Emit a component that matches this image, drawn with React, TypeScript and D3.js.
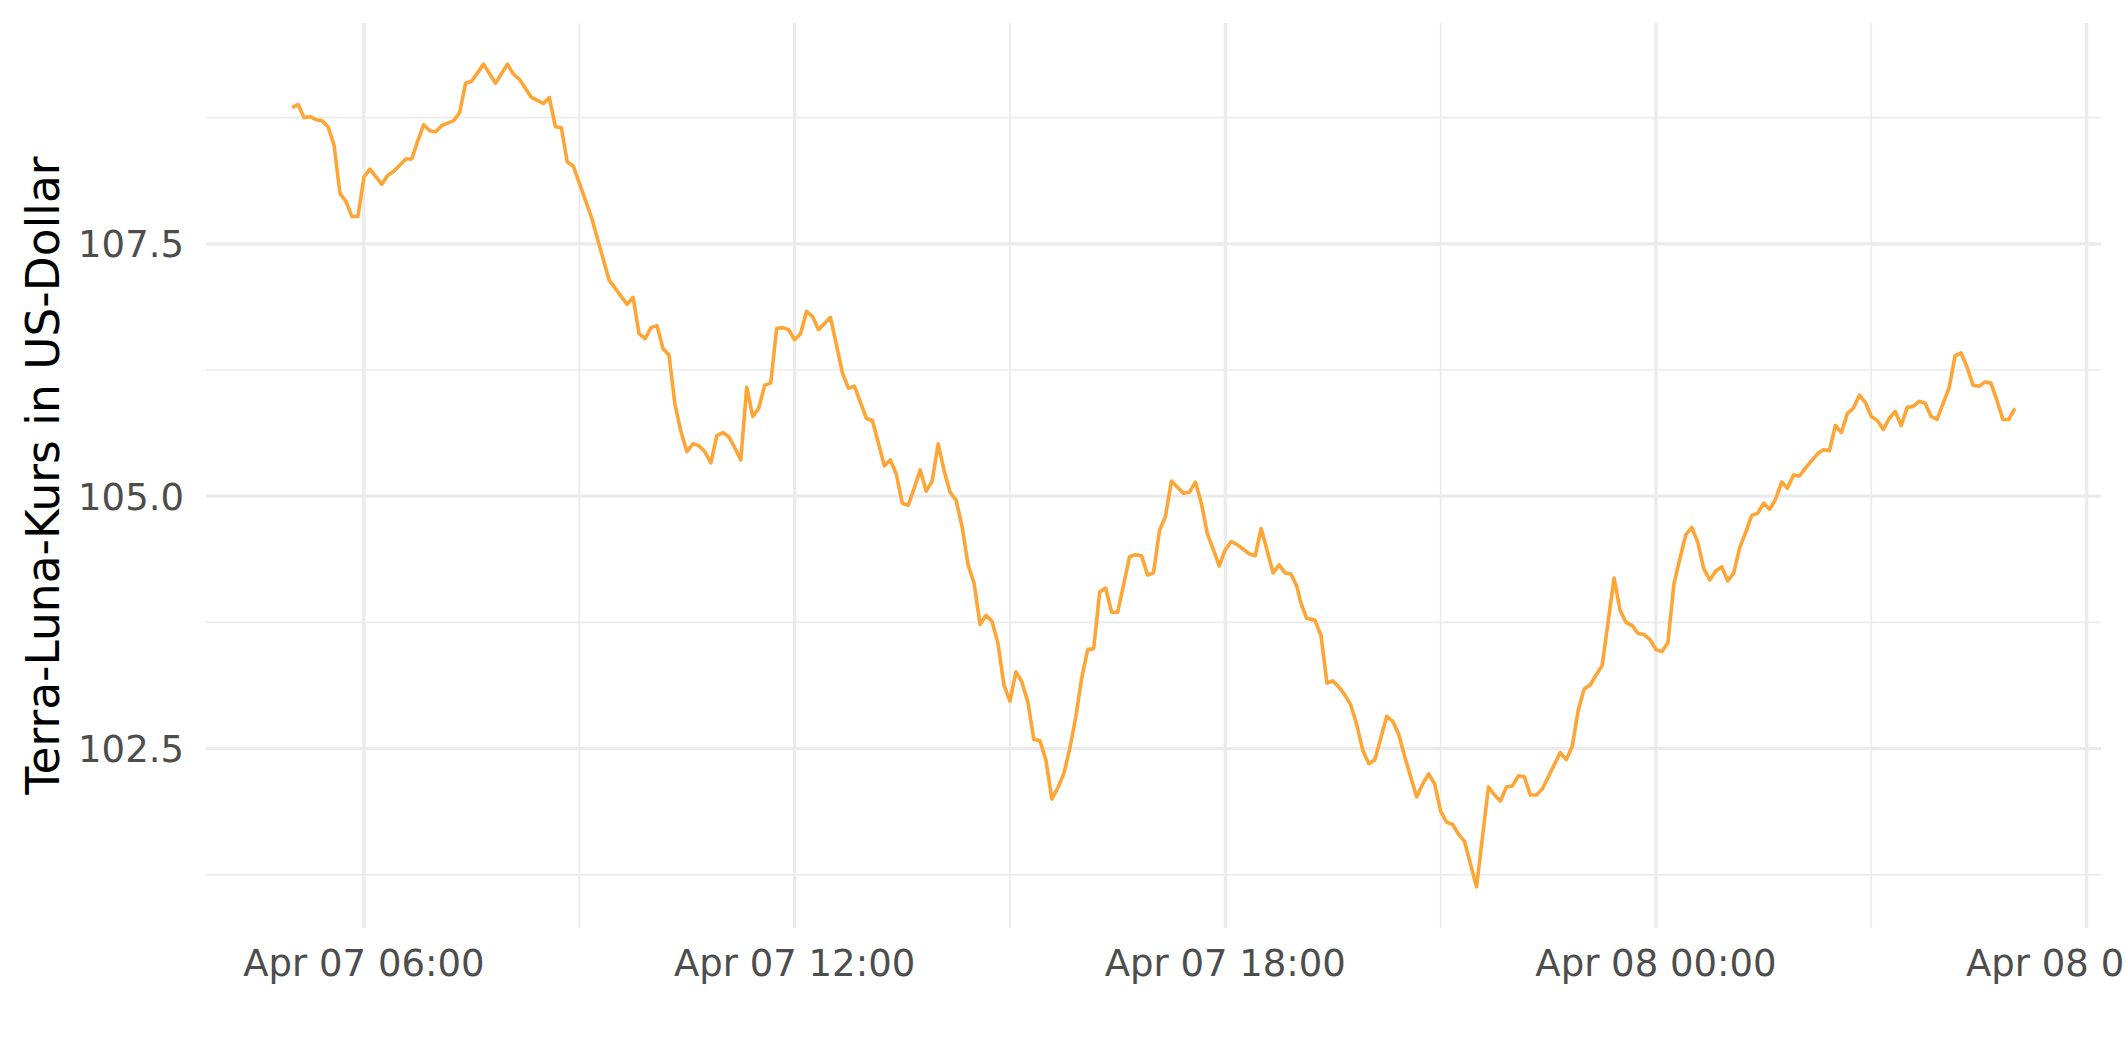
import React from "react";
import * as d3 from "d3";

// minutes since Apr 07 00:00 (UTC)
const minutes = [300,305,310,315,320,325,330,335,340,345,350,355,360,365,375,380,385,395,400,405,410,415,420,425,435,440,445,450,460,470,480,485,490,500,505,510,515,520,525,530,535,550,565,580,585,590,595,600,605,610,615,620,625,630,635,640,645,650,655,660,665,670,675,680,685,690,695,700,705,710,715,720,725,730,735,740,745,750,755,760,765,770,780,785,790,795,800,805,810,815,820,825,830,835,840,845,850,855,860,865,870,875,880,885,890,895,900,905,910,915,920,925,930,935,940,945,950,955,960,965,970,975,980,985,990,1000,1005,1010,1015,1020,1025,1030,1035,1045,1050,1055,1060,1065,1070,1075,1080,1085,1090,1100,1105,1110,1120,1125,1130,1135,1140,1143,1148,1155,1160,1165,1170,1175,1180,1185,1190,1195,1200,1205,1215,1220,1225,1230,1240,1245,1250,1255,1260,1265,1270,1275,1280,1290,1300,1305,1310,1315,1320,1325,1330,1335,1340,1345,1350,1360,1365,1370,1375,1380,1385,1390,1395,1405,1410,1415,1420,1425,1430,1435,1440,1445,1450,1455,1460,1465,1470,1475,1480,1485,1490,1495,1500,1505,1510,1515,1520,1525,1530,1535,1540,1545,1550,1555,1560,1565,1575,1580,1585,1590,1595,1600,1605,1610,1615,1620,1625,1630,1635,1640,1645,1650,1655,1660,1665,1670,1675,1680,1685,1690,1695,1700,1705,1710,1715,1720,1725,1730,1735,1740];

const prices = [108.85,108.88,108.75,108.76,108.73,108.72,108.66,108.48,108.00,107.92,107.77,107.77,108.16,108.24,108.09,108.18,108.22,108.34,108.34,108.52,108.68,108.62,108.61,108.67,108.72,108.80,109.09,109.11,109.28,109.09,109.28,109.18,109.13,108.95,108.92,108.89,108.95,108.66,108.65,108.31,108.27,107.77,107.14,106.90,106.97,106.61,106.56,106.67,106.69,106.46,106.40,105.91,105.64,105.44,105.52,105.50,105.44,105.33,105.60,105.63,105.59,105.48,105.36,106.08,105.79,105.87,106.10,106.12,106.66,106.67,106.65,106.55,106.61,106.83,106.78,106.65,106.71,106.77,106.50,106.22,106.07,106.09,105.77,105.75,105.53,105.30,105.36,105.22,104.93,104.91,105.08,105.26,105.05,105.15,105.52,105.25,105.04,104.96,104.70,104.32,104.14,103.73,103.82,103.76,103.54,103.13,102.97,103.26,103.16,102.96,102.59,102.58,102.39,102.00,102.11,102.25,102.50,102.81,103.20,103.48,103.49,104.05,104.09,103.85,103.85,104.40,104.42,104.41,104.22,104.24,104.66,104.80,105.15,105.03,105.04,105.14,104.93,104.63,104.47,104.31,104.47,104.55,104.52,104.43,104.41,104.68,104.24,104.32,104.24,104.23,104.10,103.95,103.79,103.77,103.62,103.15,103.17,103.11,103.03,102.93,102.73,102.48,102.35,102.39,102.82,102.77,102.64,102.42,102.02,102.15,102.25,102.15,101.88,101.77,101.75,101.65,101.58,101.13,102.12,102.04,101.98,102.12,102.13,102.23,102.22,102.04,102.04,102.10,102.22,102.46,102.39,102.52,102.88,103.09,103.13,103.23,103.32,104.19,103.87,103.75,103.72,103.64,103.63,103.58,103.48,103.46,103.55,104.13,104.38,104.62,104.69,104.54,104.28,104.17,104.26,104.30,104.16,104.24,104.49,104.64,104.81,104.83,104.93,104.87,104.97,105.14,105.08,105.21,105.20,105.28,105.42,105.46,105.45,105.70,105.63,105.82,105.87,106.00,105.93,105.79,105.75,105.66,105.77,105.84,105.70,105.88,105.89,105.94,105.92,105.79,105.76,105.92,106.07,106.39,106.42,106.28,106.10,106.09,106.13,106.12,105.95,105.76,105.76,105.87];

const yMajorTicks = [102.5, 105.0, 107.5];
const yMinorTicks = [101.25, 103.75, 106.25, 108.75];
// hours since Apr 07 00:00 (UTC)
const xMajorHours = [6, 12, 18, 24, 30];
const xMinorHours = [9, 15, 21, 27];

const yTitle = "Terra-Luna-Kurs in US-Dollar";

const BASE = Date.UTC(2022, 3, 7, 0, 0, 0);
const toDate = (m: number) => new Date(BASE + m * 60000);

const W = 2125;
const H = 1062;
const M = { left: 206, right: 24, top: 23, bottom: 134 };

export default function App() {
  const data = minutes.map((m, i) => ({ t: toDate(m), v: prices[i] }));
  const [t0, t1] = d3.extent(data, (d) => d.t.getTime()) as [number, number];
  const padT = (t1 - t0) * 0.05;
  const [v0, v1] = d3.extent(data, (d) => d.v) as [number, number];
  const padV = (v1 - v0) * 0.05;

  const x = d3
    .scaleUtc()
    .domain([new Date(t0 - padT), new Date(t1 + padT)])
    .range([M.left, W - M.right]);
  const y = d3
    .scaleLinear()
    .domain([v0 - padV, v1 + padV])
    .range([H - M.bottom, M.top]);

  const line = d3
    .line<{ t: Date; v: number }>()
    .x((d) => x(d.t))
    .y((d) => y(d.v));

  const fmtX = d3.utcFormat("%b %d %H:%M");
  const fmtY = d3.format(".1f");
  const grid = "#EBEBEB";
  const font = "'DejaVu Sans', sans-serif";
  const tickFs = 37;
  const plotBottom = H - M.bottom;
  const plotRight = W - M.right;

  return (
    <svg
      width={W}
      height={H}
      style={{ position: "fixed", left: 0, top: 0, background: "#fff" }}
    >
      <rect x={0} y={0} width={W} height={H} fill="#fff" />
      {yMinorTicks.map((v) => (
        <line key={"ym" + v} x1={M.left} x2={plotRight} y1={y(v)} y2={y(v)} stroke={grid} strokeWidth={1.7} />
      ))}
      {xMinorHours.map((h) => (
        <line key={"xm" + h} x1={x(toDate(h * 60))} x2={x(toDate(h * 60))} y1={M.top} y2={plotBottom} stroke={grid} strokeWidth={1.7} />
      ))}
      {yMajorTicks.map((v) => (
        <line key={"yM" + v} x1={M.left} x2={plotRight} y1={y(v)} y2={y(v)} stroke={grid} strokeWidth={3.3} />
      ))}
      {xMajorHours.map((h) => (
        <line key={"xM" + h} x1={x(toDate(h * 60))} x2={x(toDate(h * 60))} y1={M.top} y2={plotBottom} stroke={grid} strokeWidth={3.3} />
      ))}
      <path d={line(data) || ""} fill="none" stroke="#FFA535" strokeWidth={3.6} strokeLinejoin="round" />
      {yMajorTicks.map((v) => (
        <text key={"yl" + v} x={184} y={y(v) + tickFs * 0.36} textAnchor="end" fontFamily={font} fontSize={tickFs} fill="#4D4D4D">
          {fmtY(v)}
        </text>
      ))}
      {xMajorHours.map((h) => (
        <text key={"xl" + h} x={x(toDate(h * 60))} y={976} textAnchor="middle" fontFamily={font} fontSize={tickFs} fill="#4D4D4D">
          {fmtX(toDate(h * 60))}
        </text>
      ))}
      <text
        transform={`translate(59, ${(M.top + plotBottom) / 2}) rotate(-90)`}
        textAnchor="middle"
        fontFamily={font}
        fontSize={45.5}
        fill="#000"
      >
        {yTitle}
      </text>
    </svg>
  );
}
